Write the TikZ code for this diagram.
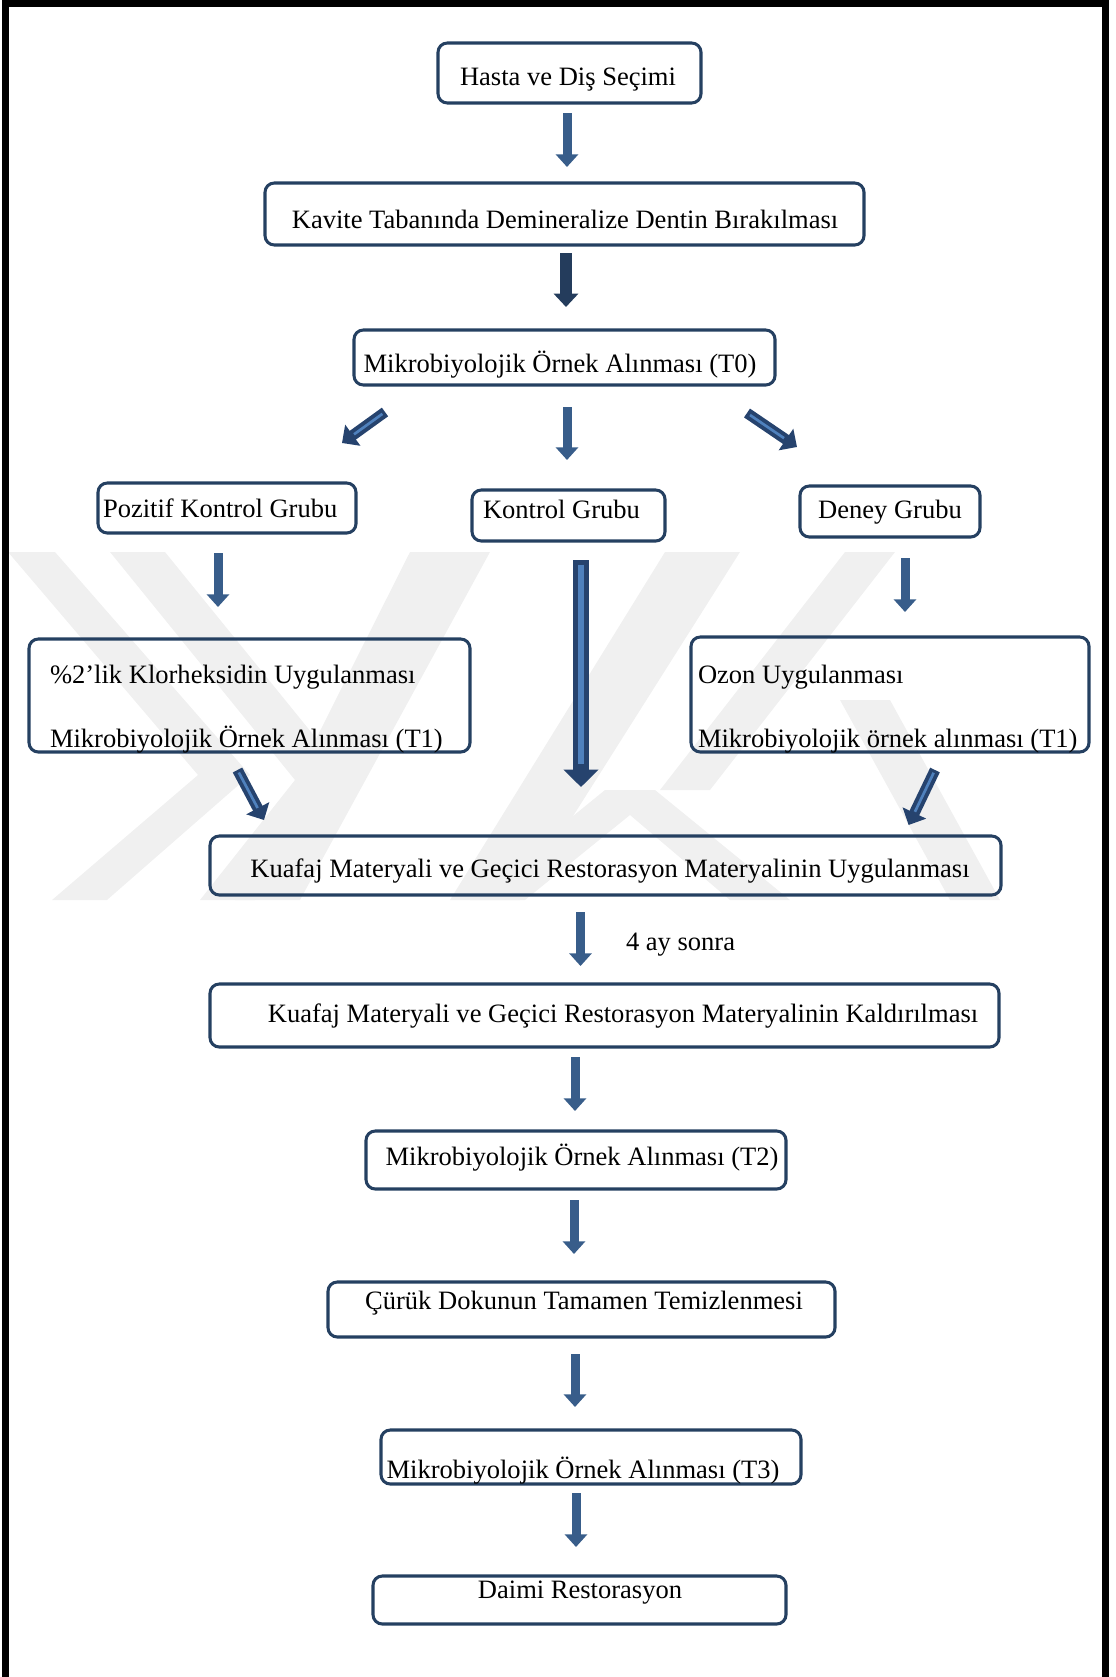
\documentclass[tikz,border=0pt]{standalone}
\usepackage{fontspec}
\setmainfont{Liberation Serif}
\usetikzlibrary{arrows.meta,calc}
\definecolor{boxc}{HTML}{254061}
\definecolor{arrc}{HTML}{385D8A}
\definecolor{arrdark}{HTML}{243C5C}
\definecolor{dblout}{HTML}{26436E}
\definecolor{dblin}{HTML}{4F81BD}
\definecolor{wm}{HTML}{F0F0F0}
\newcommand\flowbox[5]{\node[box, minimum width={(#4-#2)*0.75pt}, minimum height={(#5-#3)*0.75pt}] (#1) at ({(#2+#4)/2},{(#3+#5)/2}) {};}
\tikzset{
  box/.style={draw=boxc, line width=2.3pt, rounded corners=7pt, inner sep=0pt, outer sep=0pt},
  txt/.style={inner sep=0pt, outer sep=0pt, font=\fontsize{19.9pt}{24pt}\selectfont},
  frameline/.style={draw=black, line width=5.25pt, line join=miter},
  blkarrow/.style={draw=arrc, line width=6.75pt, -{Triangle[width=16.5pt,length=9.5pt]}},
  blkarrowdark/.style={draw=arrdark, line width=9.5pt, -{Triangle[width=18pt,length=10pt]}},
  dblarrow/.style={draw=dblout, line width=8pt, -{Triangle[width=19pt,length=10pt]}},
  dblstripe/.style={draw=dblin, line width=2pt},
  bigarrow/.style={draw=dblout, line width=12pt, -{Triangle[width=25.5pt,length=13pt]}},
  bigstripe/.style={draw=dblin, line width=5pt}
}
\begin{document}
\begin{tikzpicture}[x=0.75pt,y=-0.75pt]
\useasboundingbox (0,0) rectangle (1115,1677);
% watermark
\fill[wm] (8,552) -- (55,552) -- (250,775) -- (107,900) -- (52,900) -- (198,775) -- cycle;
\fill[wm] (110,552) -- (165,552) -- (350,780) -- (255,900) -- (200,900) -- (295,780) -- cycle;
\fill[wm] (410,552) -- (490,552) -- (300,900) -- (235,900) -- cycle;
\fill[wm] (665,552) -- (740,552) -- (520,900) -- (450,900) -- cycle;
\fill[wm] (605,790) -- (655,790) -- (790,900) -- (730,900) -- (630,815) -- (525,900) -- (470,900) -- cycle;
\fill[wm] (845,552) -- (895,552) -- (710,790) -- (660,790) -- cycle;
\fill[wm] (840,700) -- (890,700) -- (1000,900) -- (950,900) -- cycle;
% frame
\draw[frameline] (5.5,1677) -- (5.5,3.5) -- (1105.5,3.5) -- (1105.5,1677);
% boxes
\flowbox{b1}{438}{43}{701}{103}
\flowbox{b2}{265}{183}{864}{245}
\flowbox{b3}{354}{330}{775}{385}
\flowbox{b4}{98}{483}{356}{533}
\flowbox{b5}{472}{490}{665}{541}
\flowbox{b6}{800}{486}{980}{537}
\flowbox{b7}{29}{639}{470}{752}
\flowbox{b8}{691}{637}{1089}{752}
\flowbox{b9}{210}{836}{1001}{895}
\flowbox{b10}{210}{984}{999}{1047}
\flowbox{b11}{366}{1131}{786}{1189}
\flowbox{b12}{328}{1282}{835}{1337}
\flowbox{b13}{381}{1430}{801}{1484}
\flowbox{b14}{373}{1576}{786}{1624}
% texts
\node[txt, anchor=base] (t1) at (568,85) {Hasta ve Diş Seçimi};
\node[txt, anchor=base] (t2) at (565,228) {Kavite Tabanında Demineralize Dentin Bırakılması};
\node[txt, anchor=base] (t3) at (560,372) {Mikrobiyolojik Örnek Alınması (T0)};
\node[txt, anchor=base west] (t4) at (103,517) {Pozitif Kontrol Grubu};
\node[txt, anchor=base west] (t5) at (483,518) {Kontrol Grubu};
\node[txt, anchor=base] (t6) at (890,518) {Deney Grubu};
\node[txt, anchor=base west] (t7a) at (50,683) {\%2’lik Klorheksidin Uygulanması};
\node[txt, anchor=base west] (t7b) at (50,747) {Mikrobiyolojik Örnek Alınması (T1)};
\node[txt, anchor=base west] (t8a) at (698,683) {Ozon Uygulanması};
\node[txt, anchor=base west] (t8b) at (698,747) {Mikrobiyolojik örnek alınması (T1)};
\node[txt, anchor=base] (t9) at (610,877) {Kuafaj Materyali ve Geçici Restorasyon Materyalinin Uygulanması};
\node[txt, anchor=base west] (tlab) at (626,950) {4 ay sonra};
\node[txt, anchor=base] (t10) at (623,1022) {Kuafaj Materyali ve Geçici Restorasyon Materyalinin Kaldırılması};
\node[txt, anchor=base] (t11) at (582,1165) {Mikrobiyolojik Örnek Alınması (T2)};
\node[txt, anchor=base] (t12) at (584,1309) {Çürük Dokunun Tamamen Temizlenmesi};
\node[txt, anchor=base] (t13) at (583,1478) {Mikrobiyolojik Örnek Alınması (T3)};
\node[txt, anchor=base] (t14) at (580,1598) {Daimi Restorasyon};
% arrow coordinates
\coordinate (a1s) at (567,113); \coordinate (a1e) at (567,167);
\coordinate (a2s) at (566,253); \coordinate (a2e) at (566,307);
\coordinate (a3ls) at (385,412); \coordinate (a3le) at (342,443);
\coordinate (a3ms) at (567,407); \coordinate (a3me) at (567,460);
\coordinate (a3rs) at (747,413); \coordinate (a3re) at (797,447);
\coordinate (a4ps) at (218,553); \coordinate (a4pe) at (218,607);
\coordinate (a4ks) at (581,560); \coordinate (a4ke) at (581,787);
\coordinate (a4ds) at (905,558); \coordinate (a4de) at (905,612);
\coordinate (a5ls) at (237.5,770); \coordinate (a5le) at (264,820);
\coordinate (a5rs) at (935,770); \coordinate (a5re) at (908.6,825);
\coordinate (a6s) at (580.5,912); \coordinate (a6e) at (580.5,966);
\coordinate (a7s) at (575,1057); \coordinate (a7e) at (575,1111);
\coordinate (a8s) at (574,1200); \coordinate (a8e) at (574,1254);
\coordinate (a9s) at (575,1354); \coordinate (a9e) at (575,1407);
\coordinate (a10s) at (576,1493); \coordinate (a10e) at (576,1547);
% arrows
\draw[blkarrow] (a1s) -- (a1e);
\draw[blkarrowdark] (a2s) -- (a2e);
\draw[dblarrow] (a3ls) -- (a3le);
\draw[dblstripe] ($(a3ls)!0.06!(a3le)$) -- ($(a3ls)!0.72!(a3le)$);
\draw[blkarrow] (a3ms) -- (a3me);
\draw[dblarrow] (a3rs) -- (a3re);
\draw[dblstripe] ($(a3rs)!0.06!(a3re)$) -- ($(a3rs)!0.74!(a3re)$);
\draw[blkarrow] (a4ps) -- (a4pe);
\draw[bigarrow] (a4ks) -- (a4ke);
\draw[bigstripe] ($(a4ks)!0.02!(a4ke)$) -- ($(a4ks)!0.9!(a4ke)$);
\draw[blkarrow] (a4ds) -- (a4de);
\draw[dblarrow] (a5ls) -- (a5le);
\draw[dblstripe] ($(a5ls)!0.05!(a5le)$) -- ($(a5ls)!0.76!(a5le)$);
\draw[dblarrow] (a5rs) -- (a5re);
\draw[dblstripe] ($(a5rs)!0.05!(a5re)$) -- ($(a5rs)!0.76!(a5re)$);
\draw[blkarrow] (a6s) -- (a6e);
\draw[blkarrow] (a7s) -- (a7e);
\draw[blkarrow] (a8s) -- (a8e);
\draw[blkarrow] (a9s) -- (a9e);
\draw[blkarrow] (a10s) -- (a10e);
\end{tikzpicture}
\end{document}
